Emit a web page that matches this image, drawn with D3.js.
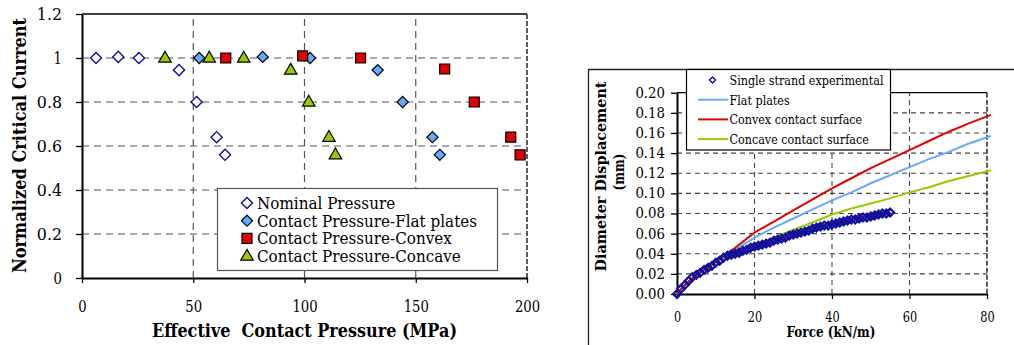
<!DOCTYPE html>
<meta charset="utf-8">
<style>

body {
  margin: 0;
  overflow: hidden;
  background: #fff;
}

svg text {
  font-family: "DejaVu Serif", serif;
  fill: #000;
}

.grid {
  stroke: #555;
  stroke-width: 1.2px;
  stroke-dasharray: 7,5;
}

.grid2 {
  stroke: #444;
  stroke-width: 1.1px;
  stroke-dasharray: 5,4;
}

.title {
  font-weight: bold;
  white-space: pre;
}

</style>
<svg width="1014" height="345"></svg>
<script src="https://d3js.org/d3.v7.min.js"></script>
<script>
// ---- left chart: normalized Ic vs effective contact pressure ----
const nominalX = [6.3, 16.3, 25.6, 43.6, 51.5, 60.5, 64.3];
const nominalY = [1.0, 1.005, 1.0, 0.945, 0.8, 0.64, 0.56];

const flatX = [52.7, 81.2, 102.5, 132.9, 144.1, 157.5, 160.8];
const flatY = [1.0, 1.005, 1.0, 0.945, 0.8, 0.64, 0.56];

const convexX = [64.6, 99.2, 125.2, 163, 176.3, 192.7, 196.9];
const convexY = [1.0, 1.01, 1.0, 0.95, 0.8, 0.64, 0.56];

const concaveX = [37.3, 57.2, 72.7, 93.8, 101.9, 111, 113.9];
const concaveY = [1.0, 1.0, 1.0, 0.945, 0.8, 0.64, 0.56];

const leftXTicks = [0, 50, 100, 150, 200];
const leftYTicks = [0, 0.2, 0.4, 0.6, 0.8, 1, 1.2];
const leftLegend = ["Nominal Pressure", "Contact Pressure-Flat plates",
                    "Contact Pressure-Convex", "Contact Pressure-Concave"];

// ---- right chart: diameter displacement vs force ----
const expX = [0, 1, 2, 3, 4, 5, 6, 7, 8, 9, 10, 11, 12, 13, 14, 15, 16, 17, 18, 19,
              20, 21, 22, 23, 24, 25, 26, 27, 28, 29, 30, 31, 32, 33, 34, 35, 36, 37,
              38, 39, 40, 41, 42, 43, 44, 45, 46, 47, 48, 49, 50, 51, 52, 53, 54, 55];
const expY = [0, 0.005, 0.009, 0.013, 0.017, 0.019, 0.021, 0.024, 0.026, 0.028,
              0.031, 0.033, 0.036, 0.038, 0.039, 0.040, 0.041, 0.043, 0.044, 0.046,
              0.047, 0.048, 0.049, 0.050, 0.051, 0.053, 0.054, 0.055, 0.056, 0.058,
              0.059, 0.060, 0.061, 0.062, 0.063, 0.065, 0.066, 0.067, 0.068, 0.068,
              0.069, 0.070, 0.071, 0.072, 0.073, 0.074, 0.074, 0.075, 0.076, 0.076,
              0.077, 0.078, 0.079, 0.080, 0.080, 0.081];

const curveX = [0, 2, 5, 8, 10, 12, 15, 20, 25, 30, 35, 40, 45, 50, 55, 60, 65, 70, 75, 81];
const flatLine = [0, 0.009, 0.019, 0.027, 0.032, 0.037, 0.044, 0.056, 0.066, 0.075,
                  0.084, 0.093, 0.101, 0.110, 0.118, 0.126, 0.134, 0.141, 0.149, 0.157];
const convexLine = [0, 0.009, 0.019, 0.027, 0.032, 0.038, 0.046, 0.061, 0.072, 0.083,
                    0.094, 0.105, 0.115, 0.125, 0.134, 0.143, 0.152, 0.161, 0.169, 0.178];
const concaveLine = [0, 0.009, 0.019, 0.026, 0.031, 0.036, 0.041, 0.049, 0.056, 0.064,
                     0.071, 0.079, 0.085, 0.090, 0.095, 0.101, 0.106, 0.112, 0.117, 0.123];

const rightXTicks = [0, 20, 40, 60, 80];
const rightYTicks = [0, 0.02, 0.04, 0.06, 0.08, 0.10, 0.12, 0.14, 0.16, 0.18, 0.20];
const rightLegend = ["Single strand experimental", "Flat plates",
                     "Convex contact surface", "Concave contact surface"];

const navy = "#10109a", lightBlue = "#66aaff", red = "#e20000", green = "#99cc00";

const svg = d3.select("svg");

const zip = (xs, ys) => xs.map((x, i) => [x, ys[i]]);

// only a wide serif is installed; squeeze it to the narrow proportions of the original
function fit(sel, width) {
  sel.attr("textLength", width).attr("lengthAdjust", "spacingAndGlyphs");
}

function styleAxis(g, fontSize, charW) {
  g.attr("font-family", null);
  g.select(".domain").attr("stroke", "#000").attr("stroke-width", 2);
  g.selectAll(".tick line").attr("stroke", "#000").attr("stroke-width", 1.3);
  g.selectAll(".tick text")
    .attr("font-size", fontSize)
    .attr("fill", "#000")
    .each(function() { fit(d3.select(this), this.textContent.length * charW); });
}

function fitGroup(texts, refIndex, refWidth) {
  const nodes = texts.nodes();
  const k = refWidth / nodes[refIndex].getComputedTextLength();
  nodes.forEach(n => fit(d3.select(n), n.getComputedTextLength() * k));
}

// symbols
const diamondPath = size => d3.symbol(d3.symbolSquare, size)();
const squarePath = size => d3.symbol(d3.symbolSquare, size)();
const trianglePath = size => d3.symbol(d3.symbolTriangle, size)();

function drawMarker(g, kind, x, y) {
  if (kind == 0) {
    g.append("path").attr("d", diamondPath(62))
      .attr("transform", `translate(${x},${y}) rotate(45)`)
      .attr("fill", "#fff").attr("stroke", navy).attr("stroke-width", 1.4);
  } else if (kind == 1) {
    g.append("path").attr("d", diamondPath(62))
      .attr("transform", `translate(${x},${y}) rotate(45)`)
      .attr("fill", lightBlue).attr("stroke", "#000").attr("stroke-width", 1.2);
  } else if (kind == 2) {
    g.append("path").attr("d", squarePath(100))
      .attr("transform", `translate(${x},${y})`)
      .attr("fill", red).attr("stroke", "#000").attr("stroke-width", 1.2);
  } else {
    g.append("path").attr("d", trianglePath(68))
      .attr("transform", `translate(${x},${y + 0.5})`)
      .attr("fill", green).attr("stroke", "#000").attr("stroke-width", 1.2);
  }
}

// ================= LEFT =================
{
  const x = d3.scaleLinear().domain([0, 200]).range([82, 527]);
  const y = d3.scaleLinear().domain([0, 1.2]).range([278, 14]);
  const g = svg.append("g");

  // grid
  g.selectAll(".hgrid")
    .data(leftYTicks.filter(d => d > 0 && d < 1.2))
    .join("line")
    .attr("class", "grid")
    .attr("x1", x(0)).attr("x2", x(200))
    .attr("y1", d => y(d)).attr("y2", d => y(d));
  g.selectAll(".vgrid")
    .data(leftXTicks.filter(d => d > 0 && d < 200))
    .join("line")
    .attr("class", "grid")
    .attr("y1", y(0)).attr("y2", y(1.2))
    .attr("x1", d => x(d)).attr("x2", d => x(d));

  // top + right border
  g.append("line").attr("x1", x(0)).attr("x2", x(200)).attr("y1", y(1.2)).attr("y2", y(1.2))
    .attr("stroke", "#000").attr("stroke-width", 1.3);
  g.append("line").attr("x1", x(200)).attr("x2", x(200)).attr("y1", y(1.2)).attr("y2", y(0))
    .attr("stroke", "#333").attr("stroke-width", 1.6).attr("stroke-dasharray", "5,2");

  g.append("g").attr("transform", `translate(0,${y(0)})`)
    .call(d3.axisBottom(x).tickValues(leftXTicks).tickFormat(d => d).tickSize(5).tickSizeOuter(0).tickPadding(18))
    .call(a => styleAxis(a, 16, 8.4));
  g.append("g").attr("transform", `translate(${x(0)},0)`)
    .call(d3.axisLeft(y).tickValues(leftYTicks).tickFormat(d => d).tickSize(6).tickSizeOuter(0).tickPadding(14))
    .call(a => styleAxis(a, 16, 8.4));

  // points
  const series = [zip(nominalX, nominalY), zip(flatX, flatY), zip(convexX, convexY), zip(concaveX, concaveY)];
  const pts = g.append("g");
  series.forEach((s, k) => s.forEach(p => drawMarker(pts, k, x(p[0]), y(p[1]))));

  // legend
  const lg = g.append("g");
  lg.append("rect").attr("x", 217.5).attr("y", 188.5).attr("width", 280).attr("height", 82)
    .attr("fill", "#fff").attr("stroke", "#555").attr("stroke-width", 1.2);
  leftLegend.forEach((t, i) => {
    const ry = 203 + i * 17.7;
    drawMarker(lg, i, 247, ry);
    lg.append("text").attr("class", "ltxt").attr("x", 257).attr("y", ry + 6)
      .attr("font-size", 16.5).text(t);
  });
  fitGroup(lg.selectAll(".ltxt"), 1, 220);

  // titles
  g.append("text").attr("class", "title")
    .attr("x", 304.5).attr("y", 337).attr("text-anchor", "middle").attr("font-size", 18.5)
    .text("Effective  Contact Pressure (MPa)")
    .call(fit, 305);
  g.append("text").attr("class", "title")
    .attr("transform", "translate(26,145.5) rotate(-90)")
    .attr("text-anchor", "middle").attr("font-size", 18)
    .text("Normalized Critical Current")
    .call(fit, 255);
}

// ================= RIGHT =================
{
  const x = d3.scaleLinear().domain([0, 80]).range([677, 987]);
  const y = d3.scaleLinear().domain([0, 0.2]).range([294, 92.7]);
  const g = svg.append("g");

  // outer chart frame
  g.append("line").attr("x1", 588.5).attr("x2", 588.5).attr("y1", 69).attr("y2", 345)
    .attr("stroke", "#222").attr("stroke-width", 1.3);
  g.append("line").attr("x1", 588).attr("x2", 1014).attr("y1", 69.5).attr("y2", 69.5)
    .attr("stroke", "#222").attr("stroke-width", 1.3);

  g.selectAll(".hgrid")
    .data(rightYTicks.filter(d => d > 0.001 && d < 0.199))
    .join("line")
    .attr("class", "grid2")
    .attr("x1", x(0)).attr("x2", x(80))
    .attr("y1", d => y(d)).attr("y2", d => y(d));
  g.selectAll(".vgrid")
    .data(rightXTicks.filter(d => d > 0 && d < 80))
    .join("line")
    .attr("class", "grid2")
    .attr("y1", y(0)).attr("y2", y(0.2))
    .attr("x1", d => x(d)).attr("x2", d => x(d));

  g.append("line").attr("x1", x(0)).attr("x2", x(80)).attr("y1", y(0.2)).attr("y2", y(0.2))
    .attr("stroke", "#000").attr("stroke-width", 1.3);
  g.append("line").attr("x1", x(80)).attr("x2", x(80)).attr("y1", y(0.2)).attr("y2", y(0))
    .attr("stroke", "#333").attr("stroke-width", 1.6).attr("stroke-dasharray", "5,2");

  g.append("g").attr("transform", `translate(0,${y(0)})`)
    .call(d3.axisBottom(x).tickValues(rightXTicks).tickFormat(d => d).tickSize(5).tickSizeOuter(0).tickPadding(13))
    .call(a => styleAxis(a, 14, 7.2));
  g.append("g").attr("transform", `translate(${x(0)},0)`)
    .call(d3.axisLeft(y).tickValues(rightYTicks).tickFormat(d3.format(".2f")).tickSize(6).tickSizeOuter(0).tickPadding(6))
    .call(a => styleAxis(a, 14, 7.4));

  const line = d3.line().x(d => x(d[0])).y(d => y(d[1]));
  const curves = [[concaveLine, green], [flatLine, lightBlue], [convexLine, red]];
  curves.forEach(c => {
    g.append("path").datum(zip(curveX, c[0]))
      .attr("d", line).attr("fill", "none").attr("stroke", c[1]).attr("stroke-width", 2);
  });

  g.append("g").selectAll("path")
    .data(zip(expX, expY))
    .join("path")
    .attr("d", diamondPath(30))
    .attr("transform", d => `translate(${x(d[0])},${y(d[1])}) rotate(45)`)
    .attr("fill", "none").attr("stroke", navy).attr("stroke-width", 2.2);

  // legend
  const lg = g.append("g");
  lg.append("rect").attr("x", 686.5).attr("y", 69.5).attr("width", 204).attr("height", 80.5)
    .attr("fill", "#fff").attr("stroke", "#000").attr("stroke-width", 1.2);
  const legendColors = [navy, lightBlue, red, green];
  rightLegend.forEach((t, i) => {
    const ry = 80 + i * 19.7;
    if (i == 0) {
      lg.append("path").attr("d", diamondPath(18))
        .attr("transform", `translate(712.5,${ry}) rotate(45)`)
        .attr("fill", "none").attr("stroke", navy).attr("stroke-width", 1.4);
    } else {
      lg.append("line").attr("x1", 698).attr("x2", 728).attr("y1", ry).attr("y2", ry)
        .attr("stroke", legendColors[i]).attr("stroke-width", 2);
    }
    lg.append("text").attr("class", "ltxt").attr("x", 729.5).attr("y", ry + 5)
      .attr("font-size", 13).text(t);
  });
  fitGroup(lg.selectAll(".ltxt"), 0, 154);

  // titles
  g.append("text").attr("class", "title")
    .attr("x", 831).attr("y", 336.5).attr("text-anchor", "middle").attr("font-size", 14)
    .text("Force (kN/m)")
    .call(fit, 89);
  g.append("text").attr("class", "title")
    .attr("transform", "translate(606,176.5) rotate(-90)")
    .attr("text-anchor", "middle").attr("font-size", 15)
    .text("Diameter Displacement")
    .call(fit, 190);
  g.append("text").attr("class", "title")
    .attr("transform", "translate(624,172) rotate(-90)")
    .attr("text-anchor", "middle").attr("font-size", 15)
    .text("(mm)")
    .call(fit, 37);
}
</script>
